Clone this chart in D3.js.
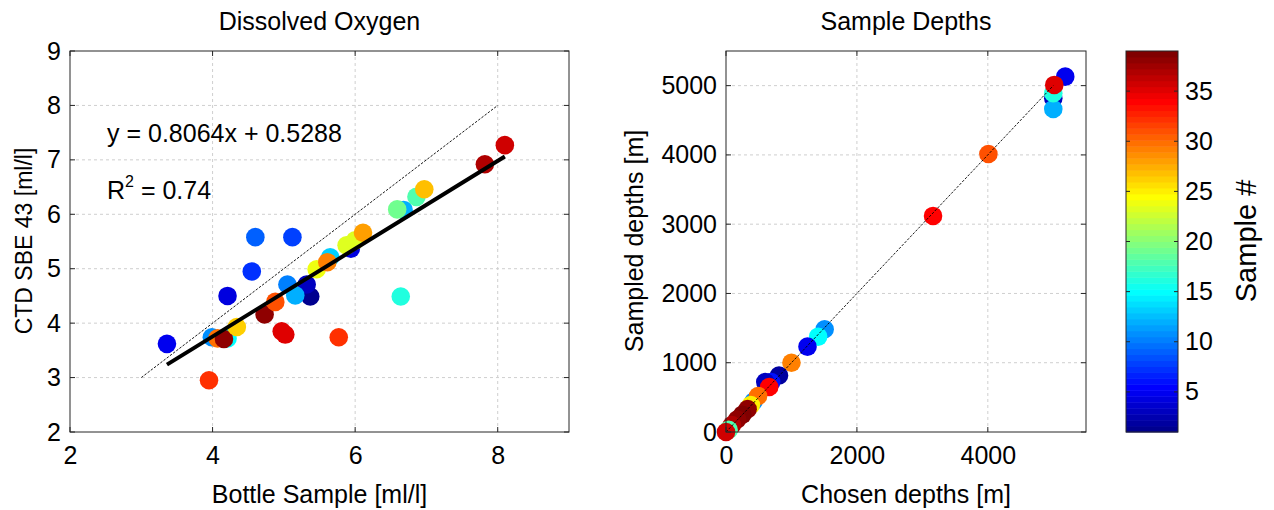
<!DOCTYPE html>
<html>
<head>
<meta charset="utf-8">
<script src="https://cdn.jsdelivr.net/npm/d3@7"></script>
<style>
  html, body { margin: 0; padding: 0; background: #fff; }
  svg { display: block; }
  text { font-family: "Liberation Sans", Arial, Helvetica, sans-serif; fill: #000; }
</style>
</head>
<body>
<svg id="chart" width="1274" height="510"></svg>
<script>
// ---------------- DATA ----------------
// Left panel: Dissolved Oxygen (bottle vs CTD), colour = sample number
const doBottle = [3.36, 3.95, 3.99, 4.21, 4.07, 4.16, 4.34, 4.21, 4.55, 4.60, 5.12, 4.73, 4.88, 4.97, 5.02, 5.05, 5.37, 5.32, 5.16, 5.65, 5.46, 5.61, 5.77, 5.94, 5.88, 6.00, 6.11, 6.64, 6.68, 6.59, 6.86, 6.97, 7.82, 8.10];
const doCTD    = [3.62, 2.95, 3.74, 3.72, 3.72, 3.71, 3.93, 4.50, 4.95, 5.58, 5.58, 4.16, 4.39, 3.85, 3.79, 4.71, 4.49, 4.71, 4.51, 5.21, 4.99, 5.12, 3.74, 5.37, 5.43, 5.52, 5.66, 4.49, 6.08, 6.09, 6.32, 6.46, 6.92, 7.27];
const doSample = [5, 32, 11, 15, 30, 38, 26, 4, 7, 9, 8, 38, 31, 35, 35, 10, 1, 3, 12, 13, 24, 29, 32, 4, 23, 23, 28, 16, 12, 19, 18, 27, 37, 36];

const fitSlope = 0.8064;
const fitIntercept = 0.5288;
const fitR2 = 0.74;
const fitXRange = [3.36, 8.10];
const oneToOneDO = [3, 8];

// Right panel: Sample depths (chosen vs sampled), colour = sample number
const chosenDepth  = [5183, 5000, 5000, 5000, 5015, 4009, 3163, 1507, 1408, 1245, 1000, 810, 690, 600, 660, 420, 490, 380, 330, 250, 170, 90, 40, 0];
const sampledDepth = [5130, 4818, 4663, 4890, 5010, 4013, 3119, 1483, 1376, 1232, 1000, 815, 720, 720, 650, 440, 520, 390, 330, 250, 180, 100, 30, 0];
const depthSample  = [5, 3, 12, 16, 35, 31, 34, 11, 15, 5, 29, 2, 6, 3, 34, 11, 30, 25, 38, 39, 38, 37, 18, 36];
const oneToOneDepth = [0, 5000];

// Axes / ticks
const doDomain = [2, 9];
const doXTicks = [2, 4, 6, 8];
const doYTicks = [2, 3, 4, 5, 6, 7, 8, 9];
const depthDomain = [0, 5500];
const depthXTicks = [0, 2000, 4000];
const depthYTicks = [0, 1000, 2000, 3000, 4000, 5000];
const cDomain = [1, 39];
const cTicks = [5, 10, 15, 20, 25, 30, 35];

// ---------------- COLORMAP (MATLAB jet, 64) ----------------
function jet64() {
  const m = 64, n = 16;
  const u = [];
  for (let k = 1; k <= n; k++) u.push(k / n);
  for (let k = 0; k < n - 1; k++) u.push(1);
  for (let k = n; k >= 1; k--) u.push(k / n);
  const g0 = Math.ceil(n / 2) - (m % 4 === 1 ? 1 : 0);
  const cmap = [];
  for (let i = 0; i < m; i++) cmap.push([0, 0, 0]);
  u.forEach((val, k) => {
    const gi = g0 + k + 1, ri = gi + n, bi = gi - n;
    if (ri >= 1 && ri <= m) cmap[ri - 1][0] = val;
    if (gi >= 1 && gi <= m) cmap[gi - 1][1] = val;
    if (bi >= 1 && bi <= m) cmap[bi - 1][2] = val;
  });
  return cmap.map(c => d3.rgb(c[0] * 255, c[1] * 255, c[2] * 255).formatHex());
}
const JET = jet64();
function colorOf(v) {
  let idx = Math.floor((v - cDomain[0]) / (cDomain[1] - cDomain[0]) * JET.length);
  idx = Math.max(0, Math.min(JET.length - 1, idx));
  return JET[idx];
}

// ---------------- DRAW ----------------
const svg = d3.select("#chart");
const FS = 25;
const R = 9.3;
const boxColor = "#262626";
const gridColor = "#cfcfcf";
const TL = 5;

function drawFrame(g, x, y, xTicks, yTicks) {
  const [x0, x1] = x.range(), [y0, y1] = y.range();
  g.append("g").selectAll("line").data(xTicks).join("line")
    .attr("x1", d => x(d)).attr("x2", d => x(d)).attr("y1", y0).attr("y2", y1)
    .attr("stroke", gridColor).attr("stroke-width", 1).attr("stroke-dasharray", "3,3");
  g.append("g").selectAll("line").data(yTicks).join("line")
    .attr("y1", d => y(d)).attr("y2", d => y(d)).attr("x1", x0).attr("x2", x1)
    .attr("stroke", gridColor).attr("stroke-width", 1).attr("stroke-dasharray", "3,3");
}

function drawBoxAndTicks(g, x, y, xTicks, yTicks) {
  const [x0, x1] = x.range(), [y0, y1] = y.range();
  g.append("rect").attr("x", x0).attr("y", y1).attr("width", x1 - x0).attr("height", y0 - y1)
    .attr("fill", "none").attr("stroke", boxColor).attr("stroke-width", 1);
  const t = g.append("g").attr("stroke", boxColor).attr("stroke-width", 1);
  xTicks.forEach(d => {
    t.append("line").attr("x1", x(d)).attr("x2", x(d)).attr("y1", y0).attr("y2", y0 - TL);
    t.append("line").attr("x1", x(d)).attr("x2", x(d)).attr("y1", y1).attr("y2", y1 + TL);
  });
  yTicks.forEach(d => {
    t.append("line").attr("y1", y(d)).attr("y2", y(d)).attr("x1", x0).attr("x2", x0 + TL);
    t.append("line").attr("y1", y(d)).attr("y2", y(d)).attr("x1", x1).attr("x2", x1 - TL);
  });
  const ax = g.append("g").attr("transform", `translate(0,${y0})`)
    .call(d3.axisBottom(x).tickValues(xTicks).tickSize(0).tickPadding(14).tickFormat(d3.format("d")));
  ax.select(".domain").remove();
  ax.selectAll("text").attr("font-size", FS).attr("fill", "#000")
    .style("font-family", '"Liberation Sans", Arial, sans-serif');
  const ay = g.append("g").attr("transform", `translate(${x0},0)`)
    .call(d3.axisLeft(y).tickValues(yTicks).tickSize(0).tickPadding(9).tickFormat(d3.format("d")));
  ay.select(".domain").remove();
  ay.selectAll("text").attr("font-size", FS).attr("fill", "#000")
    .style("font-family", '"Liberation Sans", Arial, sans-serif');
}

// ---- Left panel ----
{
  const x = d3.scaleLinear().domain(doDomain).range([70, 569]);
  const y = d3.scaleLinear().domain(doDomain).range([432, 51]);
  const g = svg.append("g");
  drawFrame(g, x, y, doXTicks.slice(1), doYTicks.slice(1, -1));

  g.append("g").selectAll("circle").data(doBottle.map((b, i) => [b, doCTD[i], doSample[i]])).join("circle")
    .attr("cx", d => x(d[0])).attr("cy", d => y(d[1])).attr("r", R)
    .attr("fill", d => colorOf(d[2]));

  g.append("line")
    .attr("x1", x(oneToOneDO[0])).attr("y1", y(oneToOneDO[0]))
    .attr("x2", x(oneToOneDO[1])).attr("y2", y(oneToOneDO[1]))
    .attr("stroke", "#000").attr("stroke-width", 0.9).attr("stroke-dasharray", "2.5,1.5");
  g.append("line")
    .attr("x1", x(fitXRange[0])).attr("y1", y(fitSlope * fitXRange[0] + fitIntercept))
    .attr("x2", x(fitXRange[1])).attr("y2", y(fitSlope * fitXRange[1] + fitIntercept))
    .attr("stroke", "#000").attr("stroke-width", 4);

  drawBoxAndTicks(g, x, y, doXTicks, doYTicks);

  g.append("text").attr("x", 107).attr("y", 142).attr("font-size", 25)
    .text(`y = ${fitSlope}x + ${fitIntercept}`);
  const r2 = g.append("text").attr("x", 107).attr("y", 199).attr("font-size", 25);
  r2.append("tspan").text("R");
  r2.append("tspan").attr("font-size", 16).attr("dy", -12).text("2");
  r2.append("tspan").attr("dy", 12).text(` = ${fitR2}`);

  g.append("text").attr("x", 319.5).attr("y", 30).attr("text-anchor", "middle")
    .attr("font-size", FS).text("Dissolved Oxygen");
  g.append("text").attr("x", 319.5).attr("y", 503).attr("text-anchor", "middle")
    .attr("font-size", FS).text("Bottle Sample [ml/l]");
  g.append("text").attr("transform", "translate(32,241) rotate(-90)").attr("text-anchor", "middle")
    .attr("font-size", 23).text("CTD SBE 43 [ml/l]");
}

// ---- Right panel ----
{
  const x = d3.scaleLinear().domain(depthDomain).range([726, 1086]);
  const y = d3.scaleLinear().domain(depthDomain).range([432, 51]);
  const g = svg.append("g");
  drawFrame(g, x, y, depthXTicks.slice(1), depthYTicks.slice(1));

  g.append("g").selectAll("circle").data(chosenDepth.map((c, i) => [c, sampledDepth[i], depthSample[i]])).join("circle")
    .attr("cx", d => x(d[0])).attr("cy", d => y(d[1])).attr("r", R)
    .attr("fill", d => colorOf(d[2]));

  g.append("line")
    .attr("x1", x(oneToOneDepth[0])).attr("y1", y(oneToOneDepth[0]))
    .attr("x2", x(oneToOneDepth[1])).attr("y2", y(oneToOneDepth[1]))
    .attr("stroke", "#000").attr("stroke-width", 0.9).attr("stroke-dasharray", "2.5,1.5");

  drawBoxAndTicks(g, x, y, depthXTicks, depthYTicks);

  g.append("text").attr("x", 906).attr("y", 30).attr("text-anchor", "middle")
    .attr("font-size", FS).text("Sample Depths");
  g.append("text").attr("x", 906).attr("y", 503).attr("text-anchor", "middle")
    .attr("font-size", FS).text("Chosen depths [m]");
  g.append("text").attr("transform", "translate(643,241) rotate(-90)").attr("text-anchor", "middle")
    .attr("font-size", FS).text("Sampled depths [m]");
}

// ---- Colorbar ----
{
  const cx0 = 1126, cx1 = 1178;
  const c = d3.scaleLinear().domain(cDomain).range([432, 51]);
  const g = svg.append("g");
  const step = (cDomain[1] - cDomain[0]) / JET.length;
  g.append("g").selectAll("rect").data(JET).join("rect")
    .attr("x", cx0).attr("width", cx1 - cx0)
    .attr("y", (d, i) => c(cDomain[0] + (i + 1) * step))
    .attr("height", (d, i) => c(cDomain[0] + i * step) - c(cDomain[0] + (i + 1) * step) + 0.5)
    .attr("fill", d => d);
  g.append("rect").attr("x", cx0).attr("y", 51).attr("width", cx1 - cx0).attr("height", 381)
    .attr("fill", "none").attr("stroke", boxColor).attr("stroke-width", 1);
  const t = g.append("g").attr("stroke", boxColor).attr("stroke-width", 1);
  cTicks.forEach(d => {
    t.append("line").attr("x1", cx0).attr("x2", cx0 + 4).attr("y1", c(d)).attr("y2", c(d));
    t.append("line").attr("x1", cx1).attr("x2", cx1 - 4).attr("y1", c(d)).attr("y2", c(d));
  });
  const ax = g.append("g").attr("transform", `translate(${cx1},0)`)
    .call(d3.axisRight(c).tickValues(cTicks).tickSize(0).tickPadding(7).tickFormat(d3.format("d")));
  ax.select(".domain").remove();
  ax.selectAll("text").attr("font-size", FS).attr("fill", "#000")
    .style("font-family", '"Liberation Sans", Arial, sans-serif');
  g.append("text").attr("transform", "translate(1256,241) rotate(-90)").attr("text-anchor", "middle")
    .attr("font-size", 29).text("Sample #");
}
</script>
</body>
</html>
